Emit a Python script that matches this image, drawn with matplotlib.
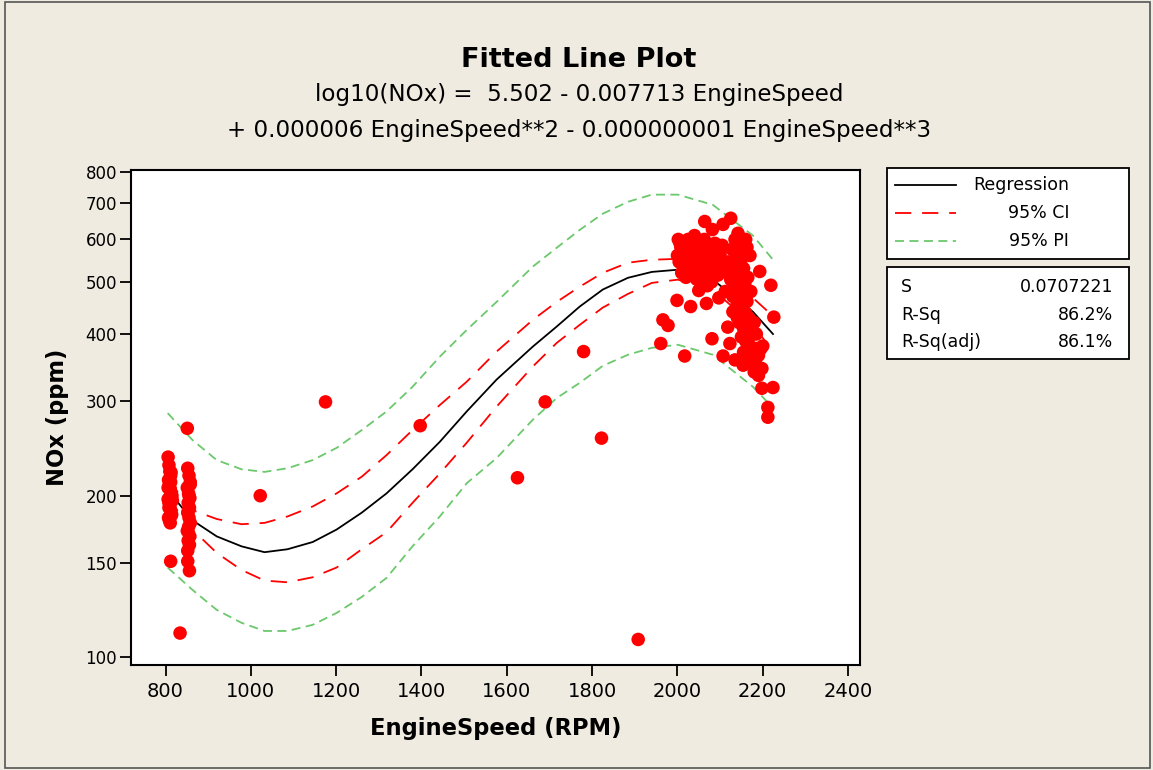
import matplotlib
matplotlib.use("Agg")
import matplotlib.pyplot as plt
from matplotlib.lines import Line2D
from matplotlib.patches import Rectangle

plt.rcParams["font.family"] = ["DejaVu Sans"]

# fitted cubic and its bands (RPM, NOx ppm)
fit_rpm = [805, 863, 920, 978, 1032, 1086, 1145, 1201, 1260, 1318, 1379, 1443,
           1506, 1576, 1661, 1717, 1771, 1825, 1884, 1940, 2001, 2083, 2177, 2224]
fit_nox = [205, 180, 168, 161, 157, 159, 164, 173, 186, 202, 224, 252,
           287, 329, 379, 413, 450, 484, 509, 522, 527, 505, 440, 400]
ci_upper = [214, 188, 181, 177, 178, 183, 191, 202, 217, 238, 265, 295,
            326, 371, 425, 459, 490, 520, 543, 550, 552, 531, 467, 432]
ci_lower = [198, 173, 156.5, 145.5, 139, 138, 141, 147, 159, 171, 194, 220,
            251, 293, 348, 385, 416, 448, 475, 498, 505, 484, 416, 371]
pi_upper = [285, 254, 233, 224, 221.5, 225, 233, 245.5, 265, 287, 319, 363,
            407, 459, 534, 579, 625, 670, 705, 727, 727, 696, 610, 550]
pi_lower = [147, 133.6, 122.6, 116, 112, 112, 115, 121, 129.6, 140.6, 161, 183,
            211, 235, 277, 304, 324.5, 349, 366, 377, 382, 366, 319, 291.5]

# observations: idle cluster around 800-860 RPM
idle_rpm = [806, 808, 810, 812, 807, 809, 811, 813, 815, 806, 808, 810, 812, 814,
            807, 809, 811, 813, 806, 810, 814, 808, 812, 816, 812, 834,
            852, 855, 858, 851, 854, 857, 853, 856, 852, 855, 858, 854, 851, 857,
            853, 856, 852, 855, 858, 854, 852, 856, 851]
idle_nox = [236, 228, 222, 218, 214, 210, 206, 203, 200, 197, 194, 191, 188, 185,
            182, 180, 178, 221, 207, 199, 184, 190, 212, 196, 151, 111,
            225, 218, 212, 207, 202, 198, 194, 190, 186, 182, 178, 175, 172, 168,
            165, 162, 158, 200, 210, 188, 151, 145, 267]

# sparse mid-range runs
mid_rpm = [1022, 1175, 1397, 1625, 1690, 1780, 1822, 1908, 1961, 1966, 1978]
mid_nox = [200, 299, 270, 216, 299, 371, 256, 108, 384, 425, 415]

# high-speed cluster around 2000-2225 RPM
high_rpm = [2000, 2004, 2008, 2012, 2018, 2024, 2028, 2033, 2038, 2043, 2048, 2053,
            2058, 2063, 2068, 2073, 2078, 2083, 2088, 2093, 2098, 2010, 2020, 2030,
            2045, 2060, 2070, 2080, 2002, 2025, 2040, 2055, 2064, 2082, 2107, 2125,
            2006, 2016, 2036, 2050, 2066, 2090, 2100, 2095, 2105,
            1999, 2031, 2068, 2050, 2070, 2097, 2017, 2081, 2107, 2118, 2123, 2135,
            2193, 2219, 2226, 2142, 2163,
            2135, 2142, 2150, 2128, 2138, 2148, 2155, 2132, 2140, 2150, 2158, 2135,
            2145, 2155, 2163, 2140, 2150, 2160, 2168, 2145, 2155, 2165, 2172, 2150,
            2160, 2170, 2178, 2155, 2165, 2175, 2185, 2190, 2195, 2180, 2190, 2198,
            2198, 2224, 2189, 2212, 2212, 2158, 2186, 2200, 2175, 2154, 2130, 2125,
            2120, 2118, 2112, 2165, 2172, 2180, 2185, 2170, 2160, 2130, 2140]
high_nox = [560, 545, 580, 592, 570, 556, 540, 576, 562, 586, 550, 532,
            566, 600, 580, 546, 522, 560, 590, 570, 536, 520, 510, 526,
            506, 516, 492, 500, 600, 600, 610, 596, 648, 626, 640, 657,
            590, 562, 546, 576, 556, 542, 562, 515, 585,
            462, 450, 456, 482, 493, 467, 364, 392, 364, 412, 384, 358,
            523, 493, 430, 616, 580,
            600, 585, 570, 575, 555, 545, 530, 530, 515, 505, 495, 490,
            480, 470, 460, 455, 445, 438, 428, 420, 410, 405, 398, 395,
            388, 380, 372, 370, 362, 356, 350, 365, 375, 340, 335, 345,
            317, 318, 340, 292, 280, 370, 376, 380, 354, 350, 470, 505,
            545, 520, 480, 510, 480, 420, 400, 560, 600, 440, 430]

speed = idle_rpm + mid_rpm + high_rpm
nox = idle_nox + mid_nox + high_nox

W, H = 1153, 770
BG = "#efebe1"
GREEN = "#6cc86c"


def fx(x):
    return x / W


def fy(y):
    return 1 - y / H


fig = plt.figure(figsize=(W / 100, H / 100), dpi=100, facecolor=BG)
fig.add_artist(Rectangle((fx(5), fy(768)), fx(1145), 766 / H, transform=fig.transFigure,
                         fill=False, edgecolor="#555555", linewidth=1.2))

ax = fig.add_axes([fx(131), fy(665), fx(860 - 131), (665 - 170) / H])
ax.set_facecolor("white")

ax.plot(fit_rpm, pi_upper, color=GREEN, lw=1.3, dashes=(5, 3))
ax.plot(fit_rpm, pi_lower, color=GREEN, lw=1.3, dashes=(5, 3))
ax.plot(fit_rpm, ci_upper, color="red", lw=1.3, dashes=(9, 6))
ax.plot(fit_rpm, ci_lower, color="red", lw=1.3, dashes=(9, 6))
ax.plot(fit_rpm, fit_nox, color="black", lw=1.3)
ax.scatter(speed, nox, s=95, color="red", edgecolors="none", zorder=5)

ax.set_yscale("log")
ax.set_xlim(719, 2428)
ax.set_ylim(96.8, 808)
yt = [100, 150, 200, 300, 400, 500, 600, 700, 800]
ax.set_yticks(yt)
ax.set_yticklabels([str(v) for v in yt])
ax.yaxis.set_minor_locator(matplotlib.ticker.NullLocator())
ax.set_xticks(range(800, 2401, 200))

for sp in ax.spines.values():
    sp.set_linewidth(1.5)
ax.tick_params(axis="x", length=8, width=1.3, labelsize=14, pad=4)
ax.tick_params(axis="y", length=8, width=1.3, labelsize=12, pad=2)
ax.set_xlabel("EngineSpeed (RPM)", fontsize=16.3, fontweight="bold", labelpad=12)
ax.set_ylabel("NOx (ppm)", fontsize=16.3, fontweight="bold", labelpad=12)

fig.text(0.502, fy(60), "Fitted Line Plot", ha="center", va="center",
         fontsize=19.5, fontweight="bold")
fig.text(0.502, fy(95), "log10(NOx) =  5.502 - 0.007713 EngineSpeed",
         ha="center", va="center", fontsize=16.6)
fig.text(0.502, fy(130), "+ 0.000006 EngineSpeed**2 - 0.000000001 EngineSpeed**3",
         ha="center", va="center", fontsize=16.6)

# legend box
fig.add_artist(Rectangle((fx(887), fy(259)), fx(1129 - 887), (259 - 168) / H,
                         transform=fig.transFigure, fill=True, facecolor="white",
                         edgecolor="black", linewidth=1.3))
legend_rows = [("Regression", "black", None, 185),
               ("95% CI", "red", (9, 6), 213),
               ("95% PI", GREEN, (5, 3), 241)]
for label, col, dash, y in legend_rows:
    ln = Line2D([fx(895), fx(956)], [fy(y), fy(y)], transform=fig.transFigure,
                color=col, lw=1.3)
    if dash:
        ln.set_dashes(dash)
    fig.add_artist(ln)
    fig.text(fx(1069), fy(y), label, ha="right", va="center", fontsize=12.5)

# summary box
fig.add_artist(Rectangle((fx(887), fy(359)), fx(1129 - 887), (359 - 267) / H,
                         transform=fig.transFigure, fill=True, facecolor="white",
                         edgecolor="black", linewidth=1.3))
stats = [("S", "0.0707221", 287), ("R-Sq", "86.2%", 315), ("R-Sq(adj)", "86.1%", 342)]
for name, val, y in stats:
    fig.text(fx(901), fy(y), name, ha="left", va="center", fontsize=12.5)
    fig.text(fx(1113), fy(y), val, ha="right", va="center", fontsize=12.5)

fig.savefig("out.png", dpi=100, facecolor=BG)
